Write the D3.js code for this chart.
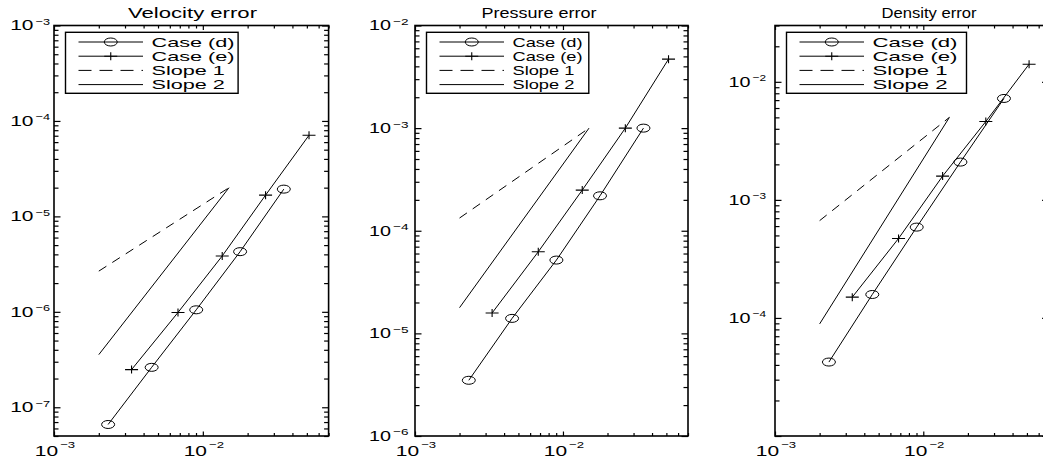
<!DOCTYPE html>
<html>
<head>
<meta charset="utf-8">
<script src="https://cdn.jsdelivr.net/npm/d3@7"></script>
<style>
  body { margin: 0; background: #fff; }
  svg { display: block; }
  text { font-family: "Liberation Sans", Arial, Helvetica, sans-serif; fill: #000; }
</style>
</head>
<body>
<svg id="chart" width="1043" height="458"></svg>
<script>
// mesh sizes (same in every panel)
const caseDx = [2.31e-3, 4.53e-3, 9.03e-3, 1.78e-2, 3.5e-2];
const caseEx = [3.32e-3, 6.81e-3, 1.35e-2, 2.64e-2, 5.17e-2];
const slopeX = [2e-3, 1.5e-2];

// velocity error
const velCaseD = [6.6e-8, 2.62e-7, 1.05e-6, 4.27e-6, 1.93e-5];
const velCaseE = [2.48e-7, 9.84e-7, 3.85e-6, 1.67e-5, 7.08e-5];
const velSlope1 = [2.67e-6, 2e-5];
const velSlope2 = [3.56e-7, 2e-5];

// pressure error
const presCaseD = [3.49e-6, 1.4e-5, 5.18e-5, 2.19e-4, 1.0e-3];
const presCaseE = [1.58e-5, 6.24e-5, 2.49e-4, 1.0e-3, 4.7e-3];
const presSlope1 = [1.33e-4, 1e-3];
const presSlope2 = [1.78e-5, 1e-3];

// density error
const densCaseD = [4.23e-5, 1.58e-4, 5.88e-4, 2.09e-3, 7.23e-3];
const densCaseE = [1.5e-4, 4.71e-4, 1.59e-3, 4.61e-3, 1.41e-2];
const densSlope1 = [6.67e-4, 5e-3];
const densSlope2 = [8.9e-5, 5e-3];

// tick labels
const xTickLabels = [1e-3, 1e-2];
const velYTickLabels = [1e-7, 1e-6, 1e-5, 1e-4, 1e-3];
const presYTickLabels = [1e-6, 1e-5, 1e-4, 1e-3, 1e-2];
const densYTickLabels = [1e-4, 1e-3, 1e-2];

const legendNames = ["Case (d)", "Case (e)", "Slope 1", "Slope 2"];
const titles = ["Velocity error", "Pressure error", "Density error"];

const svg = d3.select("#chart");
const plotTop = 25.5, plotBottom = 436;

// layout per panel (the source figure is stretched sideways, so text widths are fixed by hand)
const panels = [
  { title: titles[0], left: 54, right: 328.6, yDomain: [5e-8, 1e-3], yLabels: velYTickLabels,
    d: velCaseD, e: velCaseE, s1: velSlope1, s2: velSlope2,
    titleX: 192.5, titleW: 129, labelGap: 4, baseW: 23.3, expW: 14.5, legW: 172.6, caseW: 83 },
  { title: titles[1], left: 415, right: 688, yDomain: [1e-6, 1e-2], yLabels: presYTickLabels,
    d: presCaseD, e: presCaseE, s1: presSlope1, s2: presSlope2,
    titleX: 539, titleW: 115, labelGap: 6.5, baseW: 22, expW: 15.5, legW: 162.3, caseW: 70 },
  { title: titles[2], left: 775, right: 1048.6, yDomain: [1e-5, 3e-2], yLabels: densYTickLabels,
    d: densCaseD, e: densCaseE, s1: densSlope1, s2: densSlope2,
    titleX: 929, titleW: 95, labelGap: 9, baseW: 22, expW: 13.5, legW: 180, caseW: 85 }
];

const plusPath = "M-6.5,0H6.5M0,-4V4";

function sup(v) {
  return "\u2212" + Math.round(-Math.log10(v));
}

function drawMarker(g, kind, cx, cy) {
  if (kind === "o") {
    g.append("ellipse").attr("cx", cx).attr("cy", cy).attr("rx", 6.5).attr("ry", 4)
      .attr("fill", "none").attr("stroke", "#000").attr("stroke-width", 1);
  } else {
    g.append("path").attr("d", plusPath).attr("transform", `translate(${cx},${cy})`)
      .attr("fill", "none").attr("stroke", "#000").attr("stroke-width", 1.1);
  }
}

function fixedText(g, str, x, y, size, w) {
  return g.append("text").attr("x", x).attr("y", y).attr("font-size", size)
    .attr("textLength", w).attr("lengthAdjust", "spacingAndGlyphs").text(str);
}

// "10" and a raised exponent; x0 = left edge of the label
function powLabel(g, v, x0, yBase, supDy, baseW, expW) {
  fixedText(g, "10", x0, yBase, 14, baseW);
  fixedText(g, sup(v), x0 + baseW + 2, yBase + supDy, 9.5, expW);
}

panels.forEach((p) => {
  const x = d3.scaleLog().domain([1e-3, 0.07]).range([p.left, p.right]);
  const y = d3.scaleLog().domain(p.yDomain).range([plotBottom, plotTop]);
  const g = svg.append("g");

  const isMajor = (v) => Math.abs(Math.log10(v) - Math.round(Math.log10(v))) < 1e-6;
  const xMajor = x.ticks().filter(isMajor), xMinor = x.ticks().filter((v) => !isMajor(v));
  const yMajor = y.ticks().filter(isMajor), yMinor = y.ticks().filter((v) => !isMajor(v));

  // ticks on all four sides, pointing in
  const axes = [
    [d3.axisLeft(y), `translate(${p.left},0)`, yMajor, yMinor, 6.5, 4.5],
    [d3.axisRight(y), `translate(${p.right},0)`, yMajor, yMinor, 6.5, 4.5],
    [d3.axisBottom(x), `translate(0,${plotBottom})`, xMajor, xMinor, 4.5, 3],
    [d3.axisTop(x), `translate(0,${plotTop})`, xMajor, xMinor, 4.5, 3]
  ];
  axes.forEach(([axis, tr, major, minor, lenMaj, lenMin]) => {
    [[major, lenMaj], [minor, lenMin]].forEach(([vals, len]) => {
      const a = g.append("g").attr("transform", tr)
        .call(axis.tickValues(vals).tickSize(-len).tickSizeOuter(0).tickFormat(""));
      a.select(".domain").remove();
      a.selectAll("line").attr("stroke", "#000").attr("stroke-width", 1.2);
    });
  });

  g.append("rect").attr("x", p.left).attr("y", plotTop)
    .attr("width", p.right - p.left).attr("height", plotBottom - plotTop)
    .attr("fill", "none").attr("stroke", "#000").attr("stroke-width", 1.6);

  // tick labels
  const labW = p.baseW + 2 + p.expW;
  p.yLabels.forEach((v) => {
    powLabel(g, v, p.left - p.labelGap - labW, y(v) + 4.9, -5.5, p.baseW, p.expW);
  });
  xTickLabels.forEach((v) => {
    powLabel(g, v, x(v) + 1 - (23.3 + 2 + 15) / 2, 455.5, -8, 23.3, 15);
  });

  // title
  g.append("text").attr("x", p.titleX).attr("y", 18.3).attr("text-anchor", "middle")
    .attr("font-size", 14).attr("textLength", p.titleW).attr("lengthAdjust", "spacingAndGlyphs")
    .text(p.title);

  // data
  const line = d3.line().x((d) => x(d[0])).y((d) => y(d[1]));
  const lineStyle = (sel) => sel.attr("fill", "none").attr("stroke", "#000").attr("stroke-width", 1);

  g.append("path").datum(d3.zip(slopeX, p.s1)).attr("d", line).call(lineStyle)
    .attr("stroke-dasharray", "9,7");
  g.append("path").datum(d3.zip(slopeX, p.s2)).attr("d", line).call(lineStyle);

  const dPts = d3.zip(caseDx, p.d), ePts = d3.zip(caseEx, p.e);
  g.append("path").datum(dPts).attr("d", line).call(lineStyle);
  g.append("path").datum(ePts).attr("d", line).call(lineStyle);
  dPts.forEach((d) => drawMarker(g, "o", x(d[0]), y(d[1])));
  ePts.forEach((d) => drawMarker(g, "+", x(d[0]), y(d[1])));

  // legend
  const lx = p.left + 11.5, ly = 32.3;
  g.append("rect").attr("x", lx).attr("y", ly).attr("width", p.legW).attr("height", 61)
    .attr("fill", "#fff").attr("stroke", "#000").attr("stroke-width", 1.4);
  const sx0 = p.left + 24.5, sx1 = p.left + 89, tx = p.left + 97.5;
  legendNames.forEach((name, i) => {
    const ry = 42 + i * 14.2;
    const seg = g.append("line").attr("x1", sx0).attr("x2", sx1).attr("y1", ry).attr("y2", ry)
      .attr("stroke", "#000").attr("stroke-width", 1);
    if (i === 2) seg.attr("stroke-dasharray", "13,8");
    if (i === 0) drawMarker(g, "o", (sx0 + sx1) / 2, ry);
    if (i === 1) drawMarker(g, "+", (sx0 + sx1) / 2, ry);
    const w = i < 2 ? p.caseW : p.caseW * 0.884;
    fixedText(g, name, tx, ry + 4.8, 13.5, w);
  });
});
</script>
</body>
</html>
